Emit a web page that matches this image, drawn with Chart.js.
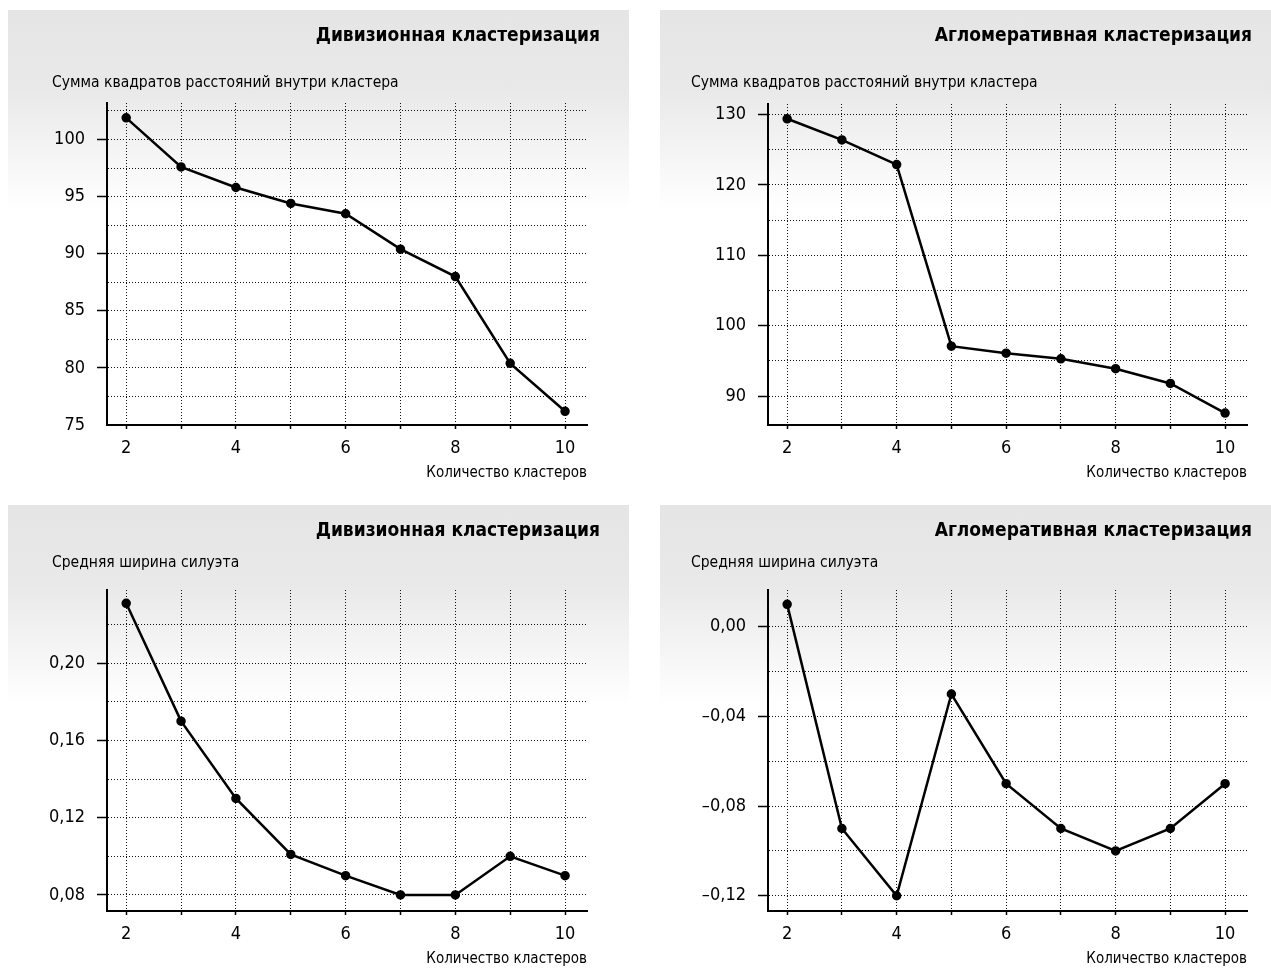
<!DOCTYPE html>
<html lang="ru">
<head>
<meta charset="utf-8">
<script src="https://cdn.jsdelivr.net/npm/chart.js@4.4.1/dist/chart.umd.min.js"></script>
<style>
  body { margin: 0; width: 1271px; height: 968px; background: #fff; position: relative; overflow: hidden; }
  .panel { position: absolute; background: linear-gradient(to bottom, #e5e5e5 0px, #e9e9e9 80px, #ffffff 200px); }
</style>
</head>
<body>
<div class="panel" style="left:8px;top:10px;width:621px;height:485px"><canvas id="c1"></canvas></div>
<div class="panel" style="left:660px;top:10px;width:611px;height:485px"><canvas id="c2"></canvas></div>
<div class="panel" style="left:8px;top:505px;width:621px;height:463px"><canvas id="c3"></canvas></div>
<div class="panel" style="left:660px;top:505px;width:611px;height:463px"><canvas id="c4"></canvas></div>
<script>
// данные
const clusters = [2, 3, 4, 5, 6, 7, 8, 9, 10];
const xLabels = [2, 4, 6, 8, 10];

const sswDivisive = [101.9, 97.6, 95.8, 94.4, 93.5, 90.4, 88.0, 80.4, 76.2];
const sswAgglomerative = [129.4, 126.4, 122.9, 97.1, 96.1, 95.3, 93.9, 91.8, 87.6];
const silDivisive = [0.231, 0.17, 0.13, 0.101, 0.09, 0.08, 0.08, 0.10, 0.09];
const silAgglomerative = [0.01, -0.09, -0.12, -0.03, -0.07, -0.09, -0.10, -0.09, -0.07];

// деления осей Y (все линии сетки) и подписанные значения
const ticksSswDiv = [75, 77.5, 80, 82.5, 85, 87.5, 90, 92.5, 95, 97.5, 100, 102.5];
const labelsSswDiv = [75, 80, 85, 90, 95, 100];
const ticksSswAgg = [90, 95, 100, 105, 110, 115, 120, 125, 130];
const labelsSswAgg = [90, 100, 110, 120, 130];
const ticksSilDiv = [0.08, 0.10, 0.12, 0.14, 0.16, 0.18, 0.20, 0.22];
const labelsSilDiv = [0.08, 0.12, 0.16, 0.20];
const ticksSilAgg = [-0.12, -0.10, -0.08, -0.06, -0.04, -0.02, 0.00];
const labelsSilAgg = [-0.12, -0.08, -0.04, 0.00];

const FONT = "'DejaVu Sans Condensed', 'Liberation Sans', sans-serif";
const GRID = '#111';

const fmtDec = v => v.toFixed(2).replace('.', ',').replace('-', '\u2013');
const near = (arr, v) => arr.some(a => Math.abs(a - v) < 1e-9);

// заголовок панели и подпись оси Y сверху
const panelText = {
  id: 'panelText',
  afterDraw(chart, args, opts) {
    const { ctx } = chart;
    ctx.save();
    ctx.fillStyle = '#000';
    ctx.textBaseline = 'middle';
    ctx.font = `bold 19px ${FONT}`;
    ctx.textAlign = 'right';
    ctx.fillText(opts.title, opts.titleX, opts.titleY);
    ctx.font = `15.5px ${FONT}`;
    ctx.textAlign = 'left';
    ctx.fillText(opts.yLabel, opts.yLabelX, opts.yLabelY);
    ctx.restore();
  }
};

function makeChart(id, values, yMin, yMax, yTicks, yLabels, yFmt, pad, text) {
  const isMajor = i => yTicks[i] !== undefined && near(yLabels, yTicks[i]) && yTicks[i] > yMin + 1e-9;
  return new Chart(document.getElementById(id), {
    type: 'line',
    data: {
      datasets: [{
        data: clusters.map((c, i) => ({ x: c, y: values[i] })),
        borderColor: '#000',
        borderWidth: 2.5,
        pointRadius: 3.5,
        pointBackgroundColor: '#000',
        pointBorderColor: '#000',
        tension: 0
      }]
    },
    options: {
      responsive: true,
      maintainAspectRatio: false,
      animation: false,
      layout: { padding: pad },
      plugins: {
        legend: { display: false },
        tooltip: { enabled: false },
        panelText: text
      },
      scales: {
        x: {
          type: 'linear',
          min: 1.65,
          max: 10.4,
          afterBuildTicks: s => { s.ticks = clusters.map(v => ({ value: v })); },
          afterFit: s => { s.height = 57; },
          ticks: {
            autoSkip: false,
            maxRotation: 0,
            padding: 9,
            color: '#000',
            font: { family: FONT, size: 18 },
            callback: v => xLabels.includes(v) ? String(v) : ''
          },
          grid: { color: GRID, lineWidth: 1, tickLength: 4, tickColor: '#000', tickWidth: 1.5, tickBorderDash: [] },
          border: { display: true, color: '#000', width: 2, dash: [1, 2] },
          title: {
            display: true,
            text: 'Количество кластеров',
            align: 'end',
            color: '#000',
            font: { family: FONT, size: 15 },
            padding: { top: 0, bottom: 0 }
          }
        },
        y: {
          type: 'linear',
          min: yMin,
          max: yMax,
          afterBuildTicks: s => { s.ticks = yTicks.map(v => ({ value: v })); },
          afterFit: s => { s.width = 90; },
          ticks: {
            autoSkip: false,
            padding: 12,
            color: '#000',
            font: { family: FONT, size: 18 },
            callback: v => near(yLabels, v) ? yFmt(v) : ''
          },
          grid: {
            color: GRID,
            lineWidth: 1,
            tickLength: 10,
            tickWidth: 1.5,
            tickBorderDash: [],
            tickColor: c => isMajor(c.index) ? '#000' : 'rgba(0,0,0,0)'
          },
          border: { display: true, color: '#000', width: 2, dash: [1, 2] }
        }
      }
    },
    plugins: [panelText]
  });
}

makeChart('c1', sswDivisive, 75, 103.2, ticksSswDiv, labelsSswDiv, v => String(v),
  { left: 9, right: 42, top: 93, bottom: 13 },
  { title: 'Дивизионная кластеризация', titleX: 592, titleY: 26,
    yLabel: 'Сумма квадратов расстояний внутри кластера', yLabelX: 44, yLabelY: 73 });

makeChart('c2', sswAgglomerative, 85.9, 131.5, ticksSswAgg, labelsSswAgg, v => String(v),
  { left: 18, right: 24, top: 94, bottom: 13 },
  { title: 'Агломеративная кластеризация', titleX: 592, titleY: 26,
    yLabel: 'Сумма квадратов расстояний внутри кластера', yLabelX: 31, yLabelY: 73 });

makeChart('c3', silDivisive, 0.0717, 0.2379, ticksSilDiv, labelsSilDiv, fmtDec,
  { left: 9, right: 42, top: 85, bottom: 0 },
  { title: 'Дивизионная кластеризация', titleX: 592, titleY: 26,
    yLabel: 'Средняя ширина силуэта', yLabelX: 44, yLabelY: 58 });

makeChart('c4', silAgglomerative, -0.1268, 0.0164, ticksSilAgg, labelsSilAgg, fmtDec,
  { left: 18, right: 24, top: 85, bottom: 0 },
  { title: 'Агломеративная кластеризация', titleX: 592, titleY: 26,
    yLabel: 'Средняя ширина силуэта', yLabelX: 31, yLabelY: 58 });
</script>
</body>
</html>
